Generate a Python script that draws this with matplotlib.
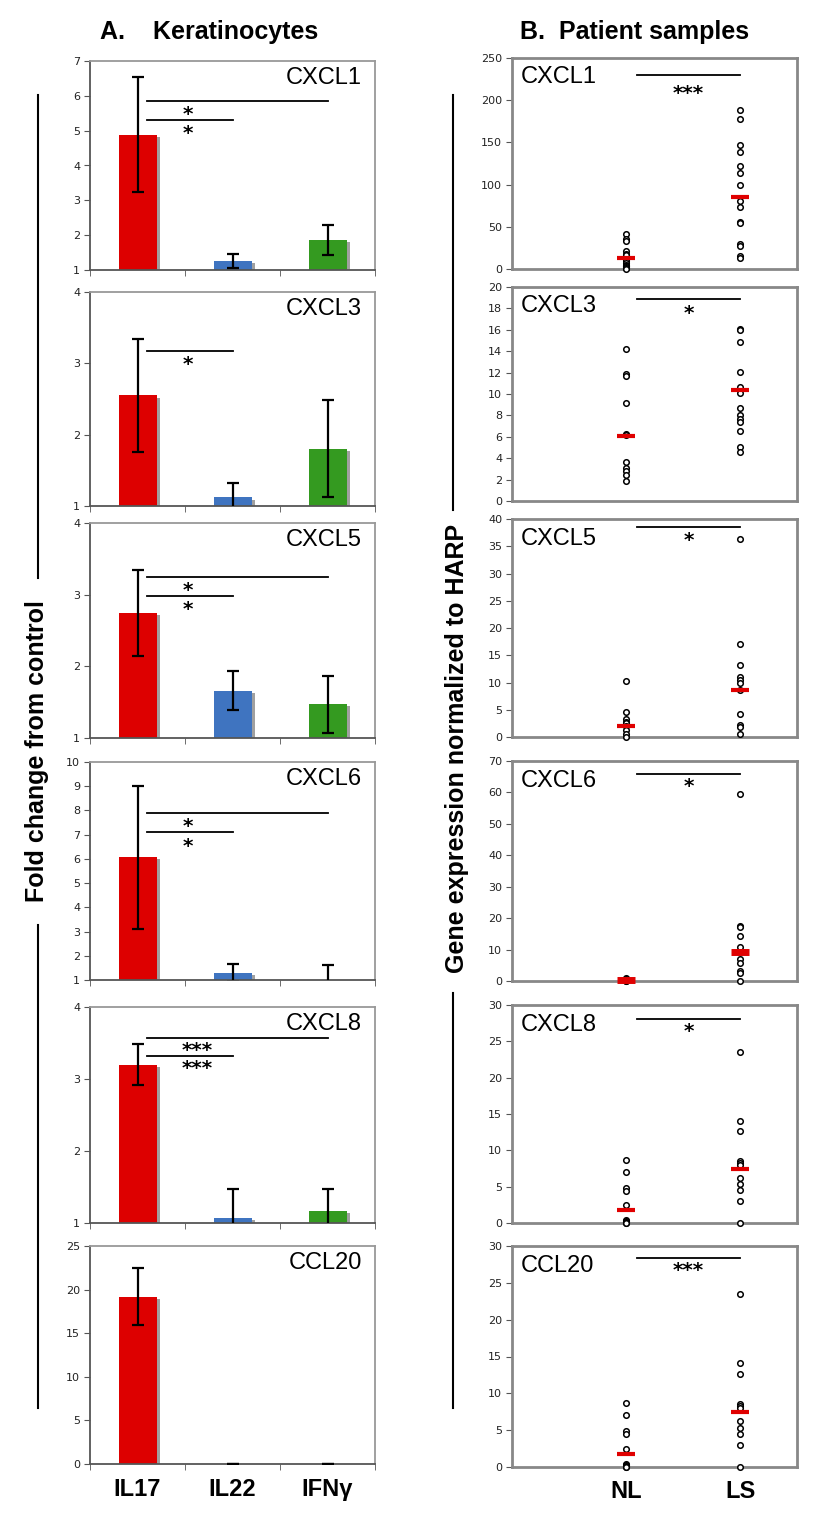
import matplotlib
matplotlib.use('Agg')
import matplotlib.pyplot as plt
from matplotlib.transforms import ScaledTranslation
from matplotlib.lines import Line2D
import numpy as np

plt.rcParams['font.family'] = ['Liberation Sans', 'DejaVu Sans']

# ---------------- data ----------------
treatments = ['IL17', 'IL22', 'IFNγ']
genes = ['CXCL1', 'CXCL3', 'CXCL5', 'CXCL6', 'CXCL8', 'CCL20']
bar_colors = ['#dd0000', '#3f74c0', '#349a20']

# Panel A: fold change from control (mean, error)
fold_CXCL1 = [4.88, 1.25, 1.86]
err_CXCL1 = [1.65, 0.20, 0.43]
fold_CXCL3 = [2.55, 1.12, 1.80]
err_CXCL3 = [0.79, 0.20, 0.68]
fold_CXCL5 = [2.75, 1.66, 1.47]
err_CXCL5 = [0.60, 0.27, 0.40]
fold_CXCL6 = [6.07, 1.30, 1.00]
err_CXCL6 = [2.95, 0.38, 0.60]
fold_CXCL8 = [3.20, 1.07, 1.17]
err_CXCL8 = [0.29, 0.40, 0.30]
fold_CCL20 = [19.2, 0.0, 0.0]
err_CCL20 = [3.3, 0.0, 0.0]

left_ylim = [(1, 7), (1, 4), (1, 4), (1, 10), (1, 4), (0, 25)]
left_ystep = [1, 1, 1, 1, 1, 5]

# significance: (x_start, x_end, y_line, x_star, y_star, label)
sig_left = {
    'CXCL1': [(0.1, 2.0, 5.85, 0.53, 5.6, '*'), (0.1, 1.0, 5.3, 0.53, 5.05, '*')],
    'CXCL3': [(0.1, 1.0, 3.17, 0.53, 3.05, '*')],
    'CXCL5': [(0.1, 2.0, 3.25, 0.53, 3.12, '*'), (0.1, 1.0, 2.98, 0.53, 2.86, '*')],
    'CXCL6': [(0.1, 2.0, 7.89, 0.53, 7.52, '*'), (0.1, 1.0, 7.10, 0.53, 6.73, '*')],
    'CXCL8': [(0.1, 2.0, 3.57, 0.63, 3.46, '***'), (0.1, 1.0, 3.32, 0.63, 3.21, '***')],
    'CCL20': [],
}

# Panel B: patient samples (NL = non-lesional, LS = lesional)
groups = ['NL', 'LS']
NL_CXCL1 = [41, 36, 33, 21, 18, 16, 11, 9, 7, 5, 4, 3, 2, 1, 0]
LS_CXCL1 = [188, 178, 147, 139, 122, 114, 100, 80, 73, 56, 55, 30, 27, 15, 13]
NL_CXCL3 = [14.2, 11.9, 11.7, 9.2, 6.23, 6.14, 3.6, 3.1, 2.8, 2.46, 1.87]
LS_CXCL3 = [16.05, 15.95, 14.83, 12.1, 10.65, 10.1, 8.7, 8.07, 7.7, 7.38, 6.5, 5.05, 4.55]
NL_CXCL5 = [10.3, 4.5, 3.3, 2.8, 2.5, 1.96, 1.35, 0.6, 0.0]
LS_CXCL5 = [36.3, 17.1, 13.3, 11.0, 10.5, 9.9, 8.7, 4.3, 2.26, 1.9, 0.55]
NL_CXCL6 = [1.1, 0.5, 0.3, 0.1, 0.05]
LS_CXCL6 = [59.4, 17.6, 17.2, 14.3, 10.7, 7.0, 5.6, 3.1, 2.65, 0.0]
NL_CXCL8 = [8.64, 7.03, 4.78, 4.4, 2.43, 0.45, 0.3, 0.15, 0.05, 0.0]
LS_CXCL8 = [23.56, 14.06, 12.63, 8.54, 8.27, 7.95, 6.2, 5.33, 4.5, 3.03, 0.0]
NL_CCL20 = [8.63, 7.05, 4.83, 4.47, 2.44, 0.45, 0.3, 0.15, 0.05, 0.0]
LS_CCL20 = [23.5, 14.05, 12.6, 8.6, 8.3, 8.0, 6.2, 5.3, 4.5, 3.0, 0.0]
median_NL = [13, 6.04, 2.08, 0.3, 1.75, 1.76]
median_LS = [85, 10.34, 8.6, 9.2, 7.49, 7.5]

right_ylim = [(0, 250), (0, 20), (0, 40), (0, 70), (0, 30), (0, 30)]
right_ystep = [50, 2, 5, 10, 5, 5]
# significance: (x_start, x_end, y_line, y_star, label)
sig_right = [(1.1, 2.0, 230, 214, '***'), (1.1, 2.0, 18.9, 18.0, '*'),
             (1.1, 2.0, 38.5, 37.0, '*'), (1.1, 2.0, 65.9, 63.3, '*'),
             (1.1, 2.0, 28.1, 27.0, '*'), (1.1, 2.0, 28.4, 27.3, '***')]

fold = [fold_CXCL1, fold_CXCL3, fold_CXCL5, fold_CXCL6, fold_CXCL8, fold_CCL20]
errs = [err_CXCL1, err_CXCL3, err_CXCL5, err_CXCL6, err_CXCL8, err_CCL20]
nl = [NL_CXCL1, NL_CXCL3, NL_CXCL5, NL_CXCL6, NL_CXCL8, NL_CCL20]
ls = [LS_CXCL1, LS_CXCL3, LS_CXCL5, LS_CXCL6, LS_CXCL8, LS_CCL20]

# ---------------- layout ----------------
W, H = 822, 1516
fig = plt.figure(figsize=(W / 100, H / 100), dpi=100)

left_rows = [(61, 270), (292, 506), (523, 738), (762, 980), (1007, 1223), (1246, 1464)]
right_rows = [(58, 269), (287, 501), (519, 737), (761, 981), (1005, 1223), (1246, 1467)]
LX0, LW = 90, 285
RX0, RW = 512, 285


def rect(x0, w, top, bot):
    return [x0 / W, 1 - bot / H, w / W, (bot - top) / H]


tick_kw = dict(labelsize=8, colors='#222222', labelfontfamily='DejaVu Sans')
star_kw = dict(ha='center', va='center', fontsize=14.5, fontweight='bold',
               family='DejaVu Sans', textcoords='offset points', xytext=(0, -3.5), zorder=4)

for i, g in enumerate(genes):
    # ---------- left: bars ----------
    ax = fig.add_axes(rect(LX0, LW, *left_rows[i]))
    ymin, ymax = left_ylim[i]
    x = np.arange(len(treatments))
    heights = [v - ymin for v in fold[i]]
    shadow = ax.transData + ScaledTranslation(2.2 / 72, -1.5 / 72, fig.dpi_scale_trans)
    ax.bar(x, heights, bottom=ymin, width=0.4, color='#a0a0a0', transform=shadow, zorder=1)
    ax.bar(x, heights, bottom=ymin, width=0.4, color=bar_colors, zorder=2)
    ax.errorbar(x, fold[i], yerr=errs[i], fmt='none', ecolor='black',
                elinewidth=1.6, capsize=4, capthick=1.6, zorder=3)
    ax.set_xlim(-0.5, 2.5)
    ax.set_ylim(ymin, ymax)
    ax.set_yticks(np.arange(ymin, ymax + 0.001, left_ystep[i]))
    ax.set_xticks(x)
    ax.set_xticks([-0.5, 0.5, 1.5, 2.5], minor=True)
    ax.tick_params(axis='x', which='major', length=0, pad=10)
    ax.tick_params(axis='x', which='minor', length=4, direction='out', color='#555555')
    ax.tick_params(axis='y', length=4, direction='out', color='#555555', pad=3, **tick_kw)
    if i == len(genes) - 1:
        ax.set_xticklabels(treatments, fontsize=17, fontweight='bold')
    else:
        ax.set_xticklabels([])
    for s in ['top', 'right']:
        ax.spines[s].set_color('#999999')
        ax.spines[s].set_linewidth(1.3)
    for s in ['left', 'bottom']:
        ax.spines[s].set_color('#555555')
        ax.spines[s].set_linewidth(1.3)
    ax.text(0.955, 0.92, g, transform=ax.transAxes, ha='right', va='center', fontsize=17)
    for (xa, xb, yl, xs, ys, lab) in sig_left[g]:
        ax.plot([xa, xb], [yl, yl], color='black', lw=1.3, zorder=4)
        ax.annotate(lab, (xs, ys), **star_kw)

    # ---------- right: dot plots ----------
    ax2 = fig.add_axes(rect(RX0, RW, *right_rows[i]))
    ax2.plot([1] * len(nl[i]), nl[i], 'o', mfc='white', mec='black', ms=4, mew=1.1,
             clip_on=False, zorder=3)
    ax2.plot([2] * len(ls[i]), ls[i], 'o', mfc='white', mec='black', ms=4, mew=1.1,
             clip_on=False, zorder=3)
    mw = 5 if g == 'CXCL6' else 3
    ax2.plot([1, 2], [median_NL[i], median_LS[i]], linestyle='none', marker='_',
             ms=13, mew=mw, color='#e00000', zorder=4, clip_on=False)
    ymin, ymax = right_ylim[i]
    ax2.set_xlim(0, 2.5)
    ax2.set_ylim(ymin, ymax)
    ax2.set_yticks(np.arange(ymin, ymax + 0.001, right_ystep[i]))
    ax2.set_xticks([1, 2])
    ax2.tick_params(axis='x', length=0, pad=9)
    ax2.tick_params(axis='y', length=4, direction='out', color='#555555', pad=3, **tick_kw)
    if i == len(genes) - 1:
        ax2.set_xticklabels(groups, fontsize=17, fontweight='bold')
    else:
        ax2.set_xticklabels([])
    for s in ax2.spines.values():
        s.set_color('#888888')
        s.set_linewidth(2)
    ax2.text(0.03, 0.91, g, transform=ax2.transAxes, ha='left', va='center', fontsize=17)
    xa, xb, yl, ys, lab = sig_right[i]
    ax2.plot([xa, xb], [yl, yl], color='black', lw=1.3, zorder=4)
    ax2.annotate(lab, (1.55, ys), **star_kw)

# ---------------- titles and side labels ----------------
fig.text(100 / W, 1 - 32 / H, 'A.    Keratinocytes', ha='left', va='center',
         fontsize=18, fontweight='bold')
fig.text(520 / W, 1 - 32 / H, 'B.  Patient samples', ha='left', va='center',
         fontsize=18, fontweight='bold')
fig.text(37 / W, 1 - 751 / H, 'Fold change from control', rotation=90, ha='center',
         va='center', fontsize=18, fontweight='bold')
fig.text(457 / W, 1 - 748 / H, 'Gene expression normalized to HARP', rotation=90,
         ha='center', va='center', fontsize=18, fontweight='bold')

for (xp, y0, y1) in [(38, 95, 578), (38, 925, 1408), (453, 95, 510), (453, 993, 1408)]:
    fig.add_artist(Line2D([xp / W, xp / W], [1 - y0 / H, 1 - y1 / H], color='black', lw=1.5,
                          transform=fig.transFigure))

fig.savefig('out.png', dpi=100)
